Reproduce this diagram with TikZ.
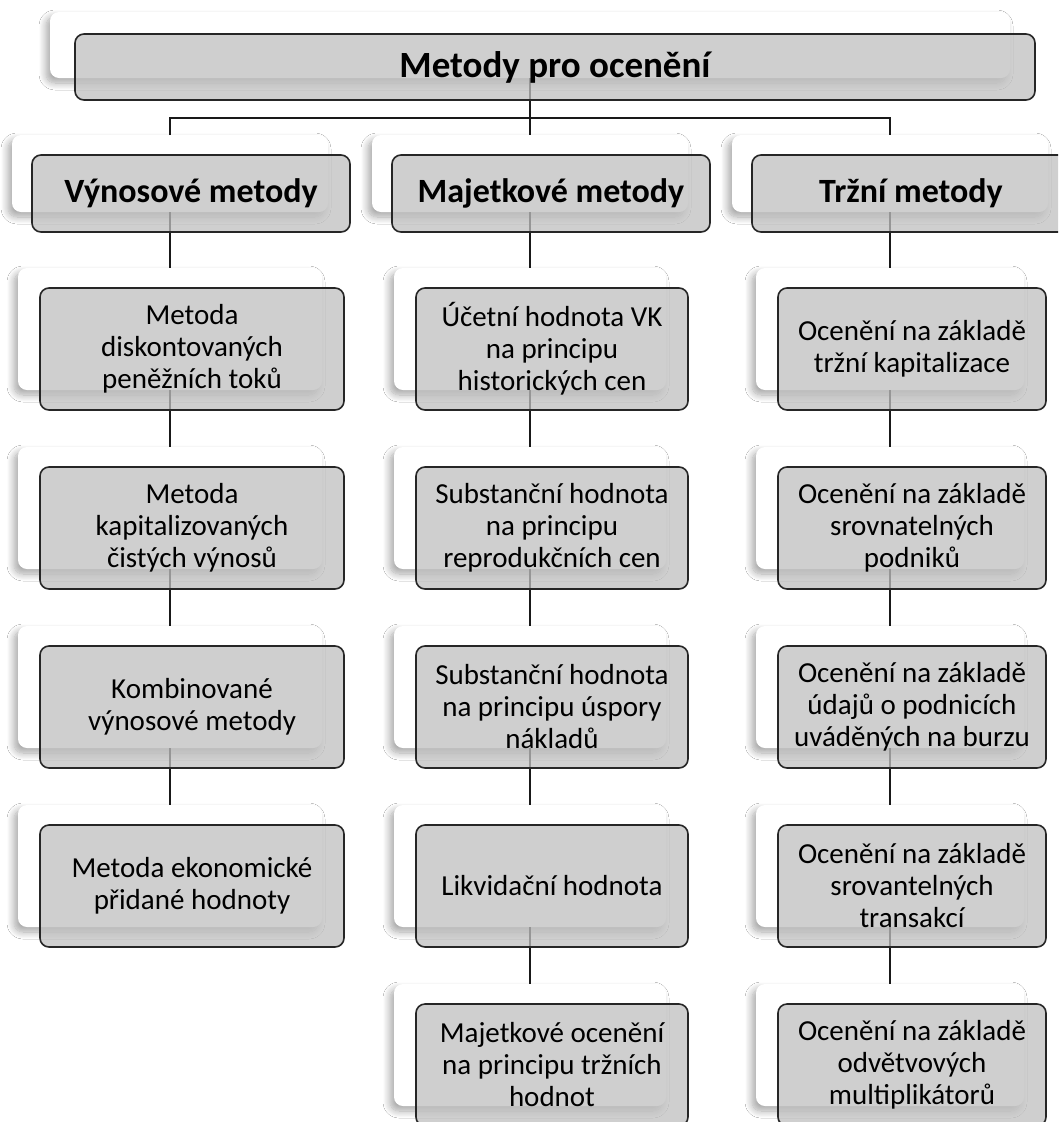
\documentclass[tikz,border=0pt]{standalone}
\usepackage{fontspec}
\setmainfont{Carlito}
\usetikzlibrary{shadows.blur}
\definecolor{frontgray}{RGB}{192,192,192}
\tikzset{
  backbox/.style={rounded corners=9pt, fill=white, draw=none, inner sep=0pt, outer sep=0pt, anchor=north west,
    blur shadow={shadow xshift=-4pt, shadow yshift=-5pt, shadow opacity=35, shadow blur radius=7pt, shadow blur steps=10}},
  frontbox/.style={rounded corners=9pt, draw=black!85, line width=1.6pt, fill=frontgray, fill opacity=0.75,
    text opacity=1, inner sep=2pt, outer sep=0pt, anchor=north west, align=center, text=black},
  conn/.style={line width=1.2pt, draw=black!90},
  titletext/.style={font=\fontsize{37}{44}\selectfont\bfseries},
  headtext/.style={font=\fontsize{34}{40}\selectfont\bfseries},
  childtext/.style={font=\fontsize{29}{32}\selectfont},
  hsize/.style={minimum width=316pt, minimum height=77pt},
  c1size/.style={minimum width=304pt, minimum height=122pt},
  c2size/.style={minimum width=272pt, minimum height=122pt},
  c3size/.style={minimum width=268pt, minimum height=122pt},
}
\begin{document}
\begin{tikzpicture}[x=1pt,y=-1pt]
\path[clip, use as bounding box] (0,0) rectangle (1058,1122);
\fill[white] (0,0) rectangle (1058,1122);
% ---------- back boxes
\node[backbox, minimum width=960pt, minimum height=66pt] (topb) at (50,12) {};
\node[backbox, hsize] (h1b) at (12,135) {};
\node[backbox, hsize] (h2b) at (372,135) {};
\node[backbox, hsize] (h3b) at (732,135) {};
\foreach \r/\y in {1/268,2/447,3/626,4/805}{
  \node[backbox, c1size] (c1\r b) at (18,\y) {};
}
\foreach \r/\y in {1/268,2/447,3/626,4/805,5/984}{
  \node[backbox, c2size] (c2\r b) at (394,\y) {};
  \node[backbox, c3size] (c3\r b) at (756,\y) {};
}
% ---------- connectors
\coordinate (barc) at (530,118);
\draw[conn] (topb.south) -- (barc);
\draw[conn] (h1b.north) |- (barc) -| (h3b.north);
\draw[conn] (barc) -- (h2b.north);
\draw[conn] (h1b.south) -- (c11b.north);
\draw[conn] (c11b.south) -- (c12b.north);
\draw[conn] (c12b.south) -- (c13b.north);
\draw[conn] (c13b.south) -- (c14b.north);
\draw[conn] (h2b.south) -- (c21b.north);
\draw[conn] (c21b.south) -- (c22b.north);
\draw[conn] (c22b.south) -- (c23b.north);
\draw[conn] (c23b.south) -- (c24b.north);
\draw[conn] (c24b.south) -- (c25b.north);
\draw[conn] (h3b.south) -- (c31b.north);
\draw[conn] (c31b.south) -- (c32b.north);
\draw[conn] (c32b.south) -- (c33b.north);
\draw[conn] (c33b.south) -- (c34b.north);
\draw[conn] (c34b.south) -- (c35b.north);
% ---------- front boxes
\node[frontbox, titletext, minimum width=960pt, minimum height=66pt] (top) at (75,34) {Metody pro ocenění};
\node[frontbox, headtext, hsize, minimum width=318pt] (h1) at (32,155) {Výnosové metody};
\node[frontbox, headtext, hsize, minimum width=318pt] (h2) at (392,155) {Majetkové metody};
\node[frontbox, headtext, hsize, minimum width=318pt] (h3) at (752,155) {Tržní metody};

\node[frontbox, childtext, c1size] (c11) at (40,288) {Metoda\\diskontovaných\\peněžních toků};
\node[frontbox, childtext, c1size] (c12) at (40,467) {Metoda\\kapitalizovaných\\čistých výnosů};
\node[frontbox, childtext, c1size] (c13) at (40,646) {Kombinované\\výnosové metody};
\node[frontbox, childtext, c1size] (c14) at (40,825) {Metoda ekonomické\\přidané hodnoty};

\node[frontbox, childtext, c2size] (c21) at (416,288) {Účetní hodnota VK\\na principu\\historických cen};
\node[frontbox, childtext, c2size] (c22) at (416,467) {Substanční hodnota\\na principu\\reprodukčních cen};
\node[frontbox, childtext, c2size] (c23) at (416,646) {Substanční hodnota\\na principu úspory\\nákladů};
\node[frontbox, childtext, c2size] (c24) at (416,825) {Likvidační hodnota};
\node[frontbox, childtext, c2size] (c25) at (416,1004) {Majetkové ocenění\\na principu tržních\\hodnot};

\node[frontbox, childtext, c3size] (c31) at (778,288) {Ocenění na základě\\tržní kapitalizace};
\node[frontbox, childtext, c3size] (c32) at (778,467) {Ocenění na základě\\srovnatelných\\podniků};
\node[frontbox, childtext, c3size] (c33) at (778,646) {Ocenění na základě\\údajů o podnicích\\uváděných na burzu};
\node[frontbox, childtext, c3size] (c34) at (778,825) {Ocenění na základě\\srovantelných\\transakcí};
\node[frontbox, childtext, c3size] (c35) at (778,1004) {Ocenění na základě\\odvětvových\\multiplikátorů};
\end{tikzpicture}
\end{document}
